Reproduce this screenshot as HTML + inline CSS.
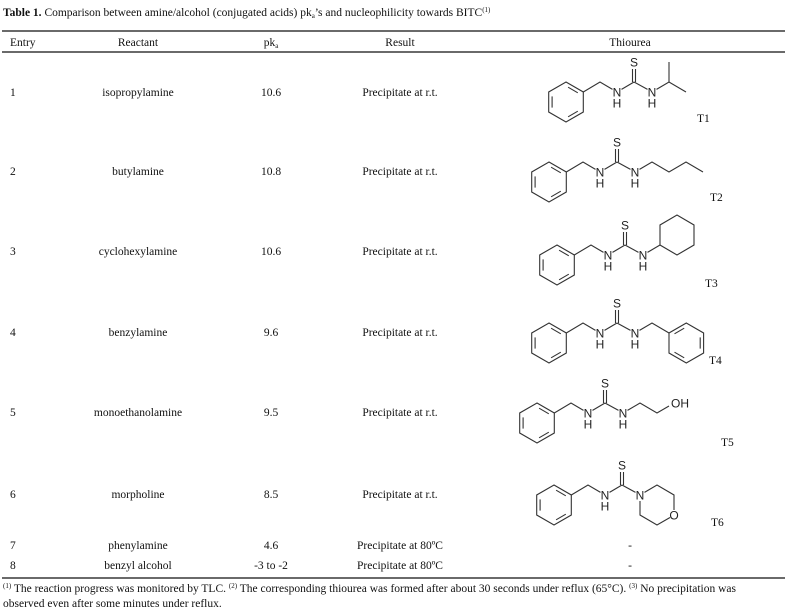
<!DOCTYPE html>
<html><head><meta charset="utf-8"><style>
html,body{margin:0;padding:0;background:#fff;}
svg{display:block;}
.t{font-family:"Liberation Serif",serif;font-size:11.5px;fill:#111;}
.c{text-anchor:middle;}
.a{font-family:"Liberation Sans",sans-serif;font-size:12px;fill:#222;text-anchor:middle;}
.b{stroke:#333;stroke-width:1.1;fill:none;}
</style></head><body>
<svg width="787" height="612" viewBox="0 0 787 612" xmlns="http://www.w3.org/2000/svg">
<defs>
<g id="ring" class="b">
<polygon points="0,-20 17.3,-10 17.3,10 0,20 -17.3,10 -17.3,-10"/>
<line x1="-13.9" y1="-5.6" x2="-13.9" y2="5.6"/>
<line x1="2.1" y1="14.8" x2="11.8" y2="9.2"/>
<line x1="11.8" y1="-9.2" x2="2.1" y2="-14.8"/>
</g>
<g id="core">
<use href="#ring" transform="translate(-51,10)"/>
<polyline class="b" points="-33.7,0 -17,-10 -4.5,-2.6"/>
<polyline class="b" points="4.5,-2.6 17,-10"/>
<line class="b" x1="15.5" y1="-10" x2="15.5" y2="-23"/>
<line class="b" x1="18.5" y1="-10" x2="18.5" y2="-23"/>
<text class="a" x="0" y="4.5">N</text>
<text class="a" x="0" y="15.5">H</text>
<text class="a" x="17" y="-25.5">S</text>
</g>
<g id="nh2">
<line class="b" x1="17" y1="-10" x2="30.5" y2="-2.6"/>
<text class="a" x="35" y="4.5">N</text>
<text class="a" x="35" y="15.5">H</text>
</g>
</defs>

<text class="t" x="3" y="16"><tspan font-weight="bold">Table 1.</tspan> Comparison between amine/alcohol (conjugated acids) pk<tspan font-size="7" dy="2">a</tspan><tspan dy="-2">’s and nucleophilicity towards BITC</tspan><tspan font-size="7" dy="-4">(1)</tspan></text>
<line x1="2" y1="31" x2="785" y2="31" stroke="#111" stroke-width="1.2"/>
<text class="t" x="10" y="46">Entry</text>
<text class="t c" x="138" y="46">Reactant</text>
<text class="t c" x="271" y="46">pk<tspan font-size="7" dy="2">a</tspan></text>
<text class="t c" x="400" y="46">Result</text>
<text class="t c" x="630" y="46">Thiourea</text>
<line x1="2" y1="52" x2="785" y2="52" stroke="#111" stroke-width="1.2"/>

<g class="t">
<text x="10" y="96">1</text><text class="c" x="138" y="96">isopropylamine</text><text class="c" x="271" y="96">10.6</text><text class="c" x="400" y="96">Precipitate at r.t.</text>
<text x="10" y="175">2</text><text class="c" x="138" y="175">butylamine</text><text class="c" x="271" y="175">10.8</text><text class="c" x="400" y="175">Precipitate at r.t.</text>
<text x="10" y="255">3</text><text class="c" x="138" y="255">cyclohexylamine</text><text class="c" x="271" y="255">10.6</text><text class="c" x="400" y="255">Precipitate at r.t.</text>
<text x="10" y="336">4</text><text class="c" x="138" y="336">benzylamine</text><text class="c" x="271" y="336">9.6</text><text class="c" x="400" y="336">Precipitate at r.t.</text>
<text x="10" y="416">5</text><text class="c" x="138" y="416">monoethanolamine</text><text class="c" x="271" y="416">9.5</text><text class="c" x="400" y="416">Precipitate at r.t.</text>
<text x="10" y="498">6</text><text class="c" x="138" y="498">morpholine</text><text class="c" x="271" y="498">8.5</text><text class="c" x="400" y="498">Precipitate at r.t.</text>
<text x="10" y="549">7</text><text class="c" x="138" y="549">phenylamine</text><text class="c" x="271" y="549">4.6</text><text class="c" x="400" y="549">Precipitate at 80ºC</text><text class="c" x="630" y="549">-</text>
<text x="10" y="569">8</text><text class="c" x="138" y="569">benzyl alcohol</text><text class="c" x="271" y="569">-3 to -2</text><text class="c" x="400" y="569">Precipitate at 80ºC</text><text class="c" x="630" y="569">-</text>
<text x="697" y="122">T1</text>
<text x="710" y="201">T2</text>
<text x="705" y="287">T3</text>
<text x="709" y="364">T4</text>
<text x="721" y="446">T5</text>
<text x="711" y="526">T6</text>
</g>

<g transform="translate(617,92)">
<use href="#core"/><use href="#nh2"/>
<polyline class="b" points="39.5,-2.6 52,-10 69,0"/>
<line class="b" x1="52" y1="-10" x2="52" y2="-30"/>
</g>
<g transform="translate(600,172)">
<use href="#core"/><use href="#nh2"/>
<polyline class="b" points="39.5,-2.6 52,-10 69,0 86,-10 103,0"/>
</g>
<g transform="translate(608,255)">
<use href="#core"/><use href="#nh2"/>
<line class="b" x1="39.5" y1="-2.6" x2="52" y2="-10"/>
<polygon class="b" points="52,-10 52,-30 69,-40 86,-30 86,-10 69,0"/>
</g>
<g transform="translate(600,333)">
<use href="#core"/><use href="#nh2"/>
<polyline class="b" points="39.5,-2.6 52,-10 69,0"/>
<use href="#ring" transform="translate(86.3,10) scale(-1,1)"/>
</g>
<g transform="translate(588,413)">
<use href="#core"/><use href="#nh2"/>
<polyline class="b" points="39.5,-2.6 52,-10 69,0 81,-7"/>
<text class="a" x="83" y="-5.5" style="text-anchor:start">OH</text>
</g>
<g transform="translate(605,495)">
<use href="#core"/>
<line class="b" x1="17" y1="-10" x2="30.5" y2="-2.6"/>
<text class="a" x="35" y="4.5">N</text>
<polyline class="b" points="39.5,-2.6 52,-10 69,0 69,15"/>
<polyline class="b" points="65,22.5 52,30 35,20 35,6"/>
<text class="a" x="69" y="24.5">O</text>
</g>

<line x1="2" y1="578" x2="785" y2="578" stroke="#111" stroke-width="1.2"/>
<text class="t" x="3" y="592" font-size="11"><tspan font-size="7" dy="-4">(1)</tspan><tspan dy="4"> The reaction progress was monitored by TLC. </tspan><tspan font-size="7" dy="-4">(2)</tspan><tspan dy="4"> The corresponding thiourea was formed after about 30 seconds under reflux (65°C). </tspan><tspan font-size="7" dy="-4">(3)</tspan><tspan dy="4"> No precipitation was</tspan></text>
<text class="t" x="3" y="607" font-size="11">observed even after some minutes under reflux.</text>
</svg>
</body></html>
